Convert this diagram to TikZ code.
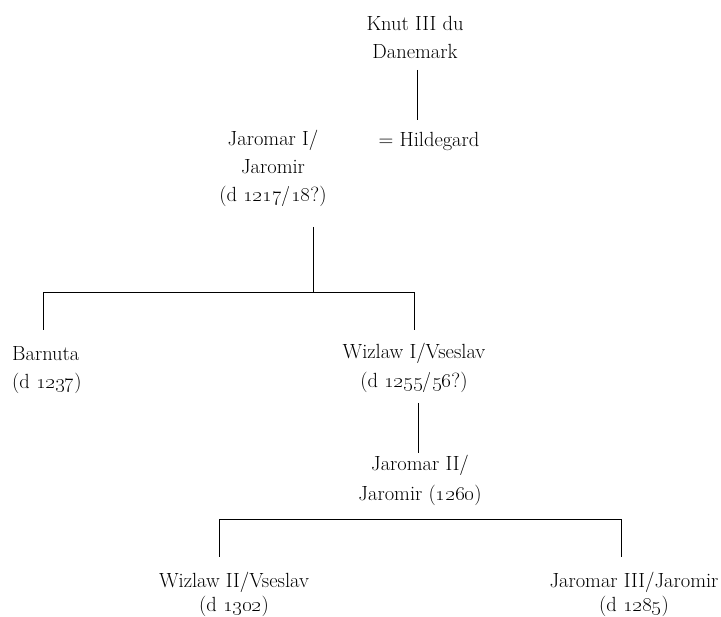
\documentclass[tikz,border=0pt]{standalone}
\begin{document}
\begin{tikzpicture}[x=1pt,y=-1pt,
  person/.style={inner sep=0pt,anchor=north,align=center,font=\fontsize{20.5}{28}\selectfont},
  link/.style={line width=1pt}]
\useasboundingbox (0,0) rectangle (721,617);
% people
\node[person] (knut) at (415,16) {Knut III du\\Danemark};
\node[person] (hild) at (429,132) {= Hildegard};
\node[person] (jar1) at (273,130) {Jaromar I/\\Jaromir\\(d \oldstylenums{1217/18}?)};
\node[person,anchor=north west,align=left] (barn) at (12,346) {Barnuta\\(d \oldstylenums{1237})};
\node[person,font=\fontsize{20.5}{29}\selectfont] (wiz1) at (414,343) {Wizlaw I/Vseslav\\(d \oldstylenums{1255/56}?)};
\node[person,font=\fontsize{20.5}{30}\selectfont] (jar2) at (420,455) {Jaromar II/\\Jaromir (\oldstylenums{1260})};
\node[person,font=\fontsize{20.5}{24}\selectfont] (wiz2) at (234,572) {Wizlaw II/Vseslav\\(d \oldstylenums{1302})};
\node[person,font=\fontsize{20.5}{24}\selectfont] (jar3) at (634,572) {Jaromar III/Jaromir\\(d \oldstylenums{1285})};
% connector points
\coordinate (k1) at (417,70);
\coordinate (k2) at (417,120);
\coordinate (j1) at (313,227);
\coordinate (j2) at (313,293);
\coordinate (bl) at (43,293);
\coordinate (br) at (414,293);
\coordinate (blb) at (43,330);
\coordinate (brb) at (414,330);
\coordinate (w1) at (418,403);
\coordinate (w2) at (418,453);
\coordinate (cl) at (219,520);
\coordinate (cr) at (621,520);
\coordinate (clb) at (219,557);
\coordinate (crb) at (621,557);
% connectors
\draw[link] (k1) -- (k2);
\draw[link] (j1) -- (j2);
\draw[link] (blb) -- (bl) -- (br) -- (brb);
\draw[link] (w1) -- (w2);
\draw[link] (clb) -- (cl) -- (cr) -- (crb);
\end{tikzpicture}
\end{document}
